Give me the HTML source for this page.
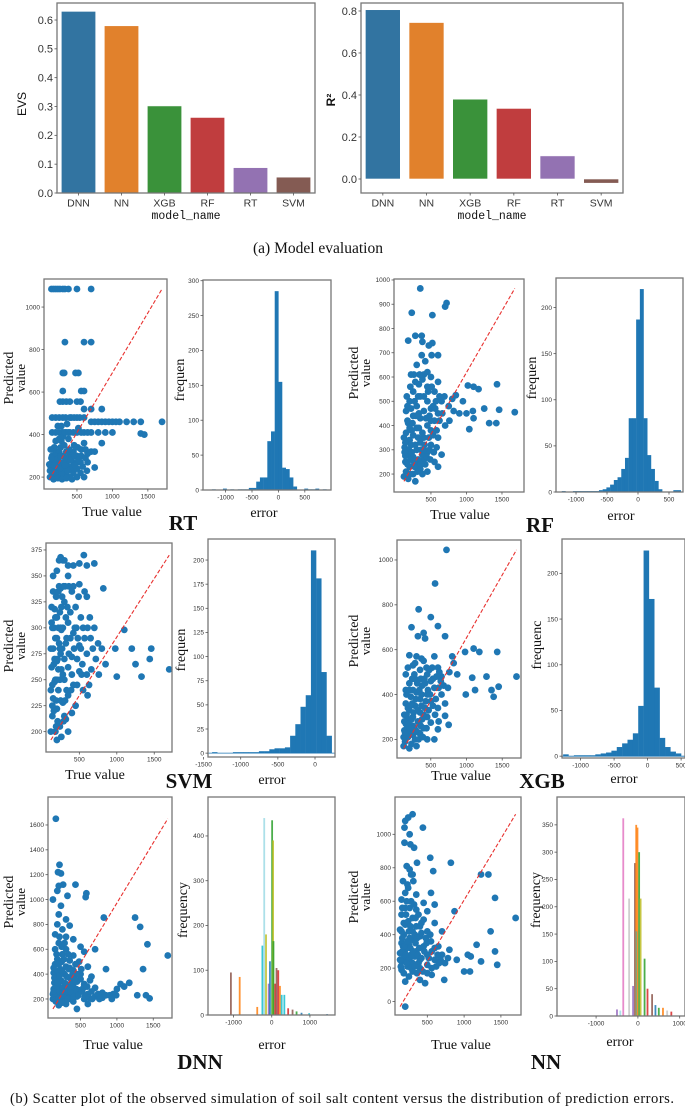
<!DOCTYPE html>
<html><head><meta charset="utf-8">
<style>
html,body{margin:0;padding:0;background:#fff;}
svg{display:block;}
</style></head>
<body>
<svg id="fig" xmlns="http://www.w3.org/2000/svg" width="685" height="1110" viewBox="0 0 685 1110">
<rect x="0" y="0" width="685" height="1110" fill="#fff"/>
<g id="layer"></g>
<text x="318" y="253" font-family="Liberation Serif, serif" font-size="15.5" text-anchor="middle" fill="#111">(a) Model evaluation</text>
<text x="342" y="1103" font-family="Liberation Serif, serif" font-size="14.6" text-anchor="middle" fill="#111" textLength="664">(b) Scatter plot of the observed simulation of soil salt content versus the distribution of prediction errors.</text>
</svg>
<script>
// ---------- data ----------
const models = ["DNN","NN","XGB","RF","RT","SVM"];
const evsValues = [0.63,0.58,0.302,0.262,0.088,0.055];
const r2Values = [0.806,0.745,0.38,0.336,0.11,-0.02];
const evsTicks = [0.0,0.1,0.2,0.3,0.4,0.5,0.6];
const r2Ticks = [0.0,0.2,0.4,0.6,0.8];

const rtPoints = [[140,1085],[170,1085],[200,1085],[230,1085],[260,1085],[300,1085],[330,1085],[380,1085],[500,1085],[700,1085],[330,835],[600,835],[700,835],[300,690],[320,690],[480,690],[520,690],[300,605],[560,605],[600,605],[260,555],[300,555],[350,555],[400,555],[500,555],[550,555],[600,520],[700,520],[850,520],[150,480],[200,480],[250,480],[300,480],[400,480],[500,480],[600,480],[700,460],[750,460],[800,460],[850,460],[900,460],[950,460],[1000,460],[1050,460],[1100,460],[1200,460],[1300,460],[1400,460],[1700,460],[150,410],[200,410],[250,410],[300,410],[350,410],[400,410],[450,410],[500,410],[600,410],[700,410],[800,410],[900,410],[1000,410],[1400,405],[1450,400],[600,360],[850,360],[200,320],[250,320],[350,320],[450,320],[700,320],[750,320],[150,300],[200,300],[300,300],[400,300],[500,300],[150,270],[250,270],[350,270],[450,270],[550,270],[650,270],[130,245],[220,245],[300,245],[420,245],[750,245],[150,220],[200,220],[260,220],[350,220],[450,220],[550,220],[120,200],[180,200],[250,200],[320,200],[400,200],[500,200],[600,200],[180,340],[280,370],[380,380],[230,260],[330,235],[480,260],[560,300],[280,215],[420,320],[160,230],[240,290],[360,450],[520,430],[130,330],[190,280],[210,250],[270,300],[310,270],[340,290],[380,250],[410,280],[440,240],[470,300],[520,280],[580,250],[620,290],[170,190],[230,195],[290,190],[350,195],[430,190],[140,290],[110,260],[270,340],[320,350],[390,330],[460,350],[510,340],[560,330],[620,330],[650,310],[200,370],[250,380],[300,390],[330,410],[380,410],[420,480],[460,480],[540,480],[230,440],[280,440],[340,480],[560,410],[650,410],[120,230],[260,240],[370,230],[500,240],[640,230],[180,255],[330,255],[470,255]];
const rfPoints = [[350,965],[720,905],[700,890],[520,855],[230,865],[180,750],[280,770],[370,770],[520,740],[470,730],[380,745],[420,665],[370,690],[510,690],[600,690],[1430,570],[1020,565],[1100,560],[1170,550],[1250,470],[1460,465],[1320,410],[1420,410],[1090,460],[1040,385],[1000,450],[900,450],[950,500],[850,525],[800,510],[750,480],[1680,455],[1100,430],[260,610],[400,610],[500,600],[600,580],[330,570],[450,560],[250,540],[550,540],[350,520],[200,500],[450,500],[650,500],[300,480],[500,470],[150,460],[400,460],[600,450],[250,440],[350,430],[550,420],[180,410],[450,400],[700,400],[300,390],[500,380],[150,370],[250,360],[400,350],[600,350],[200,340],[350,330],[500,320],[130,310],[300,300],[450,290],[650,280],[180,280],[250,270],[400,260],[550,250],[140,250],[300,240],[200,230],[350,220],[450,210],[150,210],[250,200],[120,190],[180,180],[280,170],[220,320],[160,290],[380,280],[320,260],[270,230],[420,240],[210,260],[480,300],[580,310],[230,380],[170,420],[330,450],[120,350],[140,275],[600,230],[380,200],[140,330],[190,300],[230,290],[280,320],[320,350],[360,300],[410,320],[470,350],[530,360],[580,380],[620,420],[200,390],[240,410],[290,440],[330,390],[380,370],[430,430],[480,440],[530,480],[570,500],[620,520],[170,480],[220,470],[270,500],[320,520],[400,520],[460,540],[510,560],[560,470],[210,560],[280,580],[380,590],[130,290],[170,240],[210,200],[260,250],[310,210],[360,240],[400,300],[440,270],[490,260],[540,290],[300,650],[450,620],[340,610],[220,610],[160,520],[500,420],[660,450],[690,520],[760,420],[820,460]];
const svmPoints = [[1700,260],[1440,270],[1460,280],[1330,253],[1000,253],[1250,265],[1200,280],[1100,298],[980,280],[850,265],[800,280],[760,255],[750,285],[700,300],[250,368],[300,365],[560,370],[500,362],[600,360],[420,360],[200,355],[700,362],[350,350],[500,342],[820,338],[150,335],[250,338],[400,335],[600,330],[300,325],[170,318],[450,320],[200,310],[350,305],[550,300],[130,305],[260,298],[420,295],[650,290],[180,290],[320,285],[500,283],[150,280],[250,275],[400,272],[600,275],[200,268],[350,262],[130,262],[500,258],[280,255],[600,255],[170,248],[420,245],[220,240],[350,235],[150,232],[550,240],[280,228],[200,222],[400,218],[140,215],[320,212],[240,205],[180,200],[120,200],[260,195],[200,192],[350,200],[450,225],[300,250],[230,285],[160,300],[380,315],[270,330],[330,290],[220,260],[470,270],[140,245],[290,210],[190,230],[420,340],[520,310],[240,315],[160,265],[360,275],[630,245],[140,225],[120,280],[130,320],[150,350],[170,270],[180,250],[190,330],[200,290],[210,210],[220,300],[230,340],[240,250],[250,230],[260,320],[270,280],[280,300],[290,340],[300,270],[310,230],[320,310],[340,320],[360,340],[380,290],[400,255],[430,280],[460,300],[490,330],[520,280],[540,265],[570,290],[610,300],[640,310],[680,280],[120,240],[140,300],[160,220],[180,310],[200,250],[220,335],[240,280],[260,260],[280,365],[310,340],[350,360],[230,365],[570,335],[470,245],[610,235],[530,255],[250,300],[210,270],[300,215],[190,205],[330,240],[390,240],[440,300],[480,290],[660,260],[720,270]];
const xgbPoints = [[720,1045],[560,895],[330,780],[500,745],[230,700],[600,705],[400,675],[320,660],[420,650],[700,660],[1700,480],[1450,435],[1430,590],[1380,390],[1350,420],[1280,480],[1180,590],[1100,605],[980,590],[1080,475],[1120,420],[990,400],[870,490],[820,540],[800,570],[750,265],[200,575],[300,570],[550,570],[400,550],[250,530],[600,520],[350,510],[150,490],[450,490],[650,480],[280,470],[500,460],[200,450],[380,440],[550,430],[150,420],[300,410],[450,400],[650,400],[220,390],[350,380],[500,370],[150,360],[280,350],[420,340],[600,340],[200,330],[350,320],[130,310],[250,300],[450,300],[700,305],[180,290],[320,280],[500,275],[150,270],[250,260],[400,250],[600,245],[130,240],[220,230],[350,225],[180,210],[280,200],[450,200],[140,190],[230,180],[120,170],[300,170],[200,160],[380,290],[270,250],[170,250],[330,230],[420,450],[250,420],[180,340],[520,520],[360,470],[240,360],[470,330],[560,310],[130,280],[160,310],[190,270],[210,350],[230,290],[260,320],[290,380],[320,330],[340,270],[370,350],[400,310],[430,370],[460,420],[490,400],[530,350],[570,380],[610,430],[640,460],[680,440],[160,400],[200,420],[240,470],[270,490],[310,450],[340,420],[370,400],[410,470],[440,520],[480,510],[530,470],[580,480],[620,500],[170,210],[210,250],[250,220],[290,240],[330,200],[360,260],[390,210],[440,250],[120,210],[140,230],[550,200],[610,280],[700,360],[740,430],[760,500],[180,520],[280,540],[370,560]];
const dnnPoints = [[160,1650],[210,1280],[190,1220],[230,1210],[200,1110],[260,1120],[430,1120],[180,1070],[320,1030],[580,1050],[570,1020],[120,1000],[230,950],[820,855],[1250,855],[1320,780],[1420,640],[1360,440],[1700,550],[1280,230],[1400,230],[1450,205],[1100,300],[1050,320],[1170,330],[1000,280],[850,440],[700,600],[200,880],[300,840],[180,800],[350,790],[250,760],[150,720],[300,700],[400,680],[200,650],[500,620],[150,600],[300,600],[550,580],[250,560],[400,550],[180,520],[350,510],[480,500],[150,480],[300,460],[600,460],[220,440],[400,430],[130,410],[280,400],[500,400],[180,380],[350,370],[650,380],[230,350],[450,340],[140,330],[300,320],[550,320],[200,300],[400,300],[700,290],[130,280],[300,270],[480,270],[800,250],[900,230],[220,250],[350,240],[600,240],[150,230],[280,220],[450,220],[700,220],[180,210],[350,200],[550,200],[120,200],[250,190],[400,180],[300,160],[200,150],[450,120],[600,160],[800,210],[950,240],[500,360],[350,450],[420,250],[260,290],[170,260],[650,260],[120,240],[140,370],[160,300],[190,420],[210,340],[240,500],[260,230],[280,330],[310,380],[330,290],[360,260],[380,340],[410,220],[440,280],[470,230],[520,260],[560,220],[620,210],[660,200],[740,240],[760,200],[850,230],[930,200],[990,230],[160,180],[200,200],[240,170],[280,260],[320,200],[370,300],[420,360],[460,400],[510,440],[240,620],[170,560],[330,560],[270,520],[200,480],[130,450],[210,700],[280,650],[340,440],[390,400],[430,480],[540,290],[590,300],[630,350],[210,390],[250,420],[130,260],[180,330]];
const nnPoints = [[300,1120],[200,1080],[240,1100],[190,1040],[260,1000],[440,1040],[190,950],[270,940],[320,920],[220,810],[260,790],[300,760],[310,720],[230,700],[580,780],[540,860],[360,830],[820,830],[1230,760],[1330,760],[1420,620],[1700,500],[1360,420],[1420,300],[1230,240],[1450,220],[1170,340],[1050,280],[1090,270],[1000,180],[1080,180],[870,540],[200,-30],[470,110],[730,130],[200,650],[350,640],[550,650],[150,610],[280,600],[450,590],[600,580],[200,560],[350,550],[500,540],[150,520],[300,500],[450,490],[600,470],[200,460],[350,450],[130,430],[250,420],[500,420],[700,420],[180,400],[400,390],[300,370],[550,360],[150,350],[250,340],[450,330],[650,330],[200,310],[350,300],[800,310],[130,290],[280,280],[500,280],[700,280],[180,260],[400,250],[600,250],[900,250],[150,240],[300,230],[500,220],[230,210],[400,200],[150,190],[300,180],[500,170],[250,150],[200,120],[400,130],[330,270],[260,380],[420,470],[170,330],[380,230],[620,210],[130,250],[160,300],[190,330],[210,280],[230,360],[250,250],[270,320],[290,270],[310,300],[340,350],[370,280],[390,320],[420,260],[460,300],[490,350],[520,260],[560,300],[600,320],[640,280],[680,250],[740,230],[150,420],[180,470],[210,520],[240,480],[270,450],[300,420],[330,400],[360,380],[420,410],[480,380],[540,400],[160,560],[220,600],[260,560],[320,580],[380,520],[240,680],[170,720],[280,760],[140,210],[180,170],[220,230],[280,200],[330,210],[360,170],[440,180],[560,200],[660,230],[780,260],[560,160],[160,380],[340,500],[400,450]];

const rtHistStart = -1260, rtHistWidth = 70;
const rtHistCounts = [1,0,0,2,0,1,0,1,1,1,3,3,12,18,18,70,84,285,155,32,30,18,5,0,0,2,1,1,2,0,1];
const rfHistStart = -1230, rfHistWidth = 60;
const rfHistCounts = [1,0,0,1,1,1,1,1,1,1,2,3,5,8,13,16,25,37,80,80,187,220,80,40,25,12,3,0,0,0,2,2];
const svmHistStart = -1385, svmHistWidth = 70;
const svmHistCounts = [1,0,0,0,1,1,1,1,1,2,2,4,5,5,6,18,30,48,60,210,181,84,18];
const xgbHistStart = -1260, xgbHistWidth = 80;
const xgbHistCounts = [2,0,1,1,1,1,2,3,4,6,10,14,18,25,55,225,172,75,20,10,5,3];

const dnnHistX = [-1070,-840,-380,-245,-197,-150,-80,-47,10,35,45,90,125,170,215,260,330,430,545,650,780,980,1450];
const dnnHistH = [95,85,18,155,440,180,70,120,435,390,165,70,105,100,65,45,45,15,12,8,5,4,2];
const dnnHistC = ["#8c564b","#ff7f0e","#ff7f0e","#17becf","#9edae5","#bcbd22","#9467bd","#1f77b4","#2ca02c","#bcbd22","#2ca02c","#d62728","#8c564b","#d62728","#ff7f0e","#17becf","#17becf","#d62728","#8c564b","#2ca02c","#1f77b4","#17becf","#1f77b4"];
const nnHistX = [-500,-420,-350,-210,-115,-70,-40,-30,-10,30,65,160,230,340,420,500,600,700,800];
const nnHistH = [12,10,362,215,55,280,350,155,345,300,215,105,50,40,20,15,15,10,8];
const nnHistC = ["#9467bd","#9edae5","#e377c2","#c7c7c7","#9467bd","#8c564b","#ff7f0e","#17becf","#ff7f0e","#2ca02c","#bcbd22","#2ca02c","#d62728","#8c564b","#1f77b4","#2ca02c","#ff7f0e","#c7c7c7","#d62728"];

// ---------- helpers ----------
const NS = "http://www.w3.org/2000/svg";
const layer = document.getElementById("layer");
function mk(tag, attrs, parent) {
  const e = document.createElementNS(NS, tag);
  for (const k in attrs) e.setAttribute(k, attrs[k]);
  (parent || layer).appendChild(e);
  return e;
}
function scale(d0, d1, r0, r1) { return v => r0 + (v - d0) * (r1 - r0) / (d1 - d0); }

function frame(g, box) {
  const r = mk("rect", {x: box[0], y: box[1], width: box[2]-box[0], height: box[3]-box[1], fill: "none", stroke: "#777", "stroke-width": 1.3}, g);
  
  
}
function xTicks(g, box, sx, ticks, fs, labels) {
  ticks.forEach((t, i) => {
    const x = sx(t);
    const l = mk("line", {x1: x, x2: x, y1: box[3], y2: box[3]+2.5, stroke: "#555", "stroke-width": 0.8}, g);
    
    
    const tx = mk("text", {x: x, y: box[3]+3+fs, "font-size": fs, "text-anchor": "middle", fill: "#333", "font-family": "Liberation Sans, sans-serif"}, g);
    tx.textContent = labels ? labels[i] : String(t);
    
    
  });
}
function yTicks(g, box, sy, ticks, fs, fmt) {
  ticks.forEach(t => {
    const y = sy(t);
    const l = mk("line", {x1: box[0]-2.5, x2: box[0], y1: y, y2: y, stroke: "#555", "stroke-width": 0.8}, g);
    
    
    const tx = mk("text", {x: box[0]-4, y: y+fs*0.35, "font-size": fs, "text-anchor": "end", fill: "#333", "font-family": "Liberation Sans, sans-serif"}, g);
    tx.textContent = fmt ? fmt(t) : String(t);
    
    
  });
}
function label(txt, x, y, fs, rot, name, extra) {
  const a = {x: x, y: y, "font-size": fs, "text-anchor": "middle", fill: "#111", "font-family": "Liberation Serif, serif"};
  if (rot) a.transform = "rotate(-90 " + x + " " + y + ")";
  if (extra) for (const k in extra) a[k] = extra[k];
  const t = mk("text", a);
  t.textContent = txt;
  
  
}

// ---------- bar charts ----------
const barColors = ["#3274a1","#e1812c","#3a923a","#c03d3e","#9372b2","#845b53"];
function barChart(box, vals, yd, ticks, name) {
  const g = mk("g", {});
  
  
  const sy = scale(yd[0], yd[1], box[3], box[1]);
  const step = (box[2]-box[0]) / models.length;
  const sx = i => box[0] + step * (i + 0.5);
  vals.forEach((v, i) => {
    const y0 = sy(0), y1 = sy(v);
    const r = mk("rect", {x: sx(i)-step*0.4, width: step*0.8, y: Math.min(y0,y1), height: Math.abs(y1-y0), fill: barColors[i], stroke: "#fff", "stroke-width": 0.6}, g);
    
    
  });
  frame(g, box);
  xTicks(g, box, i => sx(i), models.map((m,i)=>i), 10.5, models);
  yTicks(g, box, sy, ticks, 11, t => t.toFixed(1));
}
barChart([57,3,315,193], evsValues, [0, 0.659], evsTicks, "evs-bar-chart");
barChart([361,3,623,193], r2Values, [-0.0667, 0.838], r2Ticks, "r2-bar-chart");
label("EVS", 26, 104, 12, true, "y-axis-title-evs", {"font-family": "Liberation Sans, sans-serif"});
label("R²", 335, 100, 12, true, "y-axis-title-r2", {"font-family": "Liberation Sans, sans-serif", "font-weight": "bold"});
label("model_name", 186, 219, 11.5, false, "x-axis-title-evs", {"font-family": "Liberation Mono, monospace"});
label("model_name", 492, 219, 11.5, false, "x-axis-title-r2", {"font-family": "Liberation Mono, monospace"});

// ---------- scatter ----------
function scatter(box, xd, yd, pts, yt, name) {
  const g = mk("g", {});
  
  
  const sx = scale(xd[0], xd[1], box[0], box[2]);
  const sy = scale(yd[0], yd[1], box[3], box[1]);
  pts.forEach(p => {
    const c = mk("circle", {cx: sx(p[0]), cy: sy(p[1]), r: 3.4, fill: "#1f77b4"}, g);
    
    
  });
  const xs = pts.map(p => p[0]), ys = pts.map(p => p[1]);
  const x0 = Math.min(...xs), x1 = Math.max(...xs), y0 = Math.min(...ys), y1 = Math.max(...ys);
  const ln = mk("line", {x1: sx(x0), y1: sy(y0), x2: sx(x1), y2: sy(y1), stroke: "#e8312f", "stroke-width": 1.1, "stroke-dasharray": "4 2"}, g);
  
  
  frame(g, box);
  xTicks(g, box, sx, [500,1000,1500], 6.5);
  yTicks(g, box, sy, yt, 6.5);
}
// ---------- histograms ----------
function hist(box, xd, yd, start, w, counts, xt, yt, name) {
  const g = mk("g", {});
  
  
  const sx = scale(xd[0], xd[1], box[0], box[2]);
  const sy = scale(yd[0], yd[1], box[3], box[1]);
  counts.forEach((c, i) => {
    if (!c) return;
    const x0 = sx(start + i*w), x1 = sx(start + (i+1)*w);
    const r = mk("rect", {x: x0, width: x1-x0+0.2, y: sy(c), height: sy(0)-sy(c), fill: "#1f77b4"}, g);
    
    
  });
  const base = mk("line", {x1: box[0], x2: box[2], y1: sy(0), y2: sy(0), stroke: "#1f77b4", "stroke-width": 0.8}, g);
  
  
  frame(g, box);
  xTicks(g, box, sx, xt, 6.5);
  yTicks(g, box, sy, yt, 6.5);
}
function multiHist(box, xd, yd, xs, hs, cs, xt, yt, name) {
  const g = mk("g", {});
  
  
  const sx = scale(xd[0], xd[1], box[0], box[2]);
  const sy = scale(yd[0], yd[1], box[3], box[1]);
  xs.forEach((x, i) => {
    const r = mk("rect", {x: sx(x)-0.9, width: 1.8, y: sy(hs[i]), height: sy(0)-sy(hs[i]), fill: cs[i], opacity: 0.85}, g);
    
    
  });
  const base = mk("line", {x1: box[0], x2: box[2], y1: sy(0), y2: sy(0), stroke: "#7fb0d6", "stroke-width": 0.8}, g);
  
  
  frame(g, box);
  xTicks(g, box, sx, xt, 6.5);
  yTicks(g, box, sy, yt, 6.5);
}

// Row 1
scatter([44,279,167,489], [35,1770], [144,1132], rtPoints, [200,400,600,800,1000], "rt-scatter");
hist([203,280,331,490], [-1428,996], [0,301], rtHistStart, rtHistWidth, rtHistCounts, [-1000,-500,0,500], [0,50,100,150,200,250,300], "rt-hist");
scatter([394,279,524,492], [-20,1810], [126,1004], rfPoints, [200,300,400,500,600,700,800,900,1000], "rf-scatter");
hist([556,278,683,492], [-1323,726], [0,232], rfHistStart, rfHistWidth, rfHistCounts, [-1000,-500,0,500], [0,50,100,150,200], "rf-hist");
// Row 2
scatter([46,543,172,752], [55,1737], [180.4,381.7], svmPoints, [200,225,250,275,300,325,350,375], "svm-scatter");
hist([208,539,335,757], [-1440,269], [-4,221.8], svmHistStart, svmHistWidth, svmHistCounts, [-1500,-1000,-500,0], [0,25,50,75,100,125,150,175,200], "svm-hist");
scatter([397,540,521,758], [27,1763], [117,1089], xgbPoints, [200,400,600,800,1000], "xgb-scatter");
hist([562,539,685,758], [-1277,558], [-2,237.6], xgbHistStart, xgbHistWidth, xgbHistCounts, [-1000,-500,0,500], [0,50,100,150,200], "xgb-hist");
// Row 3
scatter([48,797,172,1018], [52,1758], [47,1825], dnnPoints, [200,400,600,800,1000,1200,1400,1600], "dnn-scatter");
multiHist([208,797,335,1015], [-1670,1657], [0,487], dnnHistX, dnnHistH, dnnHistC, [-1000,0,1000], [0,100,200,300,400], "dnn-hist");
scatter([395,797,521,1015], [61,1773], [-80,1223], nnPoints, [0,200,400,600,800,1000], "nn-scatter");
multiHist([557,797,685,1016], [-1935,1127], [0,401], nnHistX, nnHistH, nnHistC, [-1000,0,1000], [0,50,100,150,200,250,300,350], "nn-hist");

// axis titles
[[378,"r1"],[646,"r2"],[902,"r3"]].forEach(r => {
  label("Predicted", 13, r[0], 14, true, "y-axis-title-predicted-left-" + r[1]);
  label("value", 25, r[0], 13, true, "y-axis-title-value-left-" + r[1]);
  label("Predicted", 358, r[0]-5, 14, true, "y-axis-title-predicted-right-" + r[1]);
  label("value", 370, r[0]-5, 13, true, "y-axis-title-value-right-" + r[1]);
});
label("frequen", 184, 380, 14, true, "y-axis-title-rt-hist");
label("frequen", 536, 378, 14, true, "y-axis-title-rf-hist");
label("frequen", 185, 650, 14, true, "y-axis-title-svm-hist");
label("frequenc", 541, 645, 14, true, "y-axis-title-xgb-hist");
label("frequency", 187, 910, 14, true, "y-axis-title-dnn-hist");
label("frequency", 540, 900, 14, true, "y-axis-title-nn-hist");
label("True value", 112, 516, 14, false, "x-axis-title-rt");
label("True value", 460, 519, 14, false, "x-axis-title-rf");
label("True value", 95, 779, 14, false, "x-axis-title-svm");
label("True value", 461, 780, 14, false, "x-axis-title-xgb");
label("True value", 113, 1049, 14, false, "x-axis-title-dnn");
label("True value", 461, 1049, 14, false, "x-axis-title-nn");
label("error", 264, 517, 14, false, "x-axis-title-rt-hist");
label("error", 621, 520, 14, false, "x-axis-title-rf-hist");
label("error", 272, 784, 14, false, "x-axis-title-svm-hist");
label("error", 624, 783, 14, false, "x-axis-title-xgb-hist");
label("error", 272, 1049, 14, false, "x-axis-title-dnn-hist");
label("error", 620, 1046, 14, false, "x-axis-title-nn-hist");
const bold = {"font-weight": "bold"};
label("RT", 183, 530, 21, false, "panel-label-rt", bold);
label("RF", 540, 532, 21, false, "panel-label-rf", bold);
label("SVM", 189, 788, 21, false, "panel-label-svm", bold);
label("XGB", 542, 788, 21, false, "panel-label-xgb", bold);
label("DNN", 200, 1069, 21, false, "panel-label-dnn", bold);
label("NN", 546, 1069, 21, false, "panel-label-nn", bold);
</script>
</body></html>
